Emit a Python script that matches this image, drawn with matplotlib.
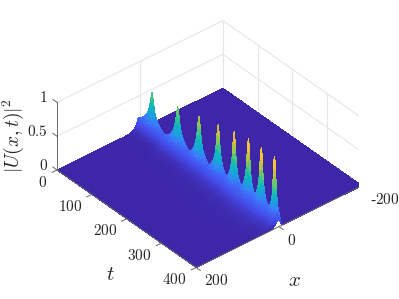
import numpy as np
import matplotlib
matplotlib.use('Agg')
import matplotlib.pyplot as plt
from matplotlib.colors import LinearSegmentedColormap
from mpl_toolkits.mplot3d import proj3d

plt.rcParams['mathtext.fontset'] = 'cm'
plt.rcParams['font.family'] = ['Liberation Serif', 'DejaVu Sans']

# values
peak_t = [35, 109, 170, 225, 271, 312, 349, 387]
peak_amp = [0.50, 0.55, 0.63, 0.70, 0.75, 0.79, 0.79, 0.79]
peak_w = [36, 36, 30, 26, 22, 20, 19, 13]
ridge_gain = [0.18, 0.18, 0.18, 0.19, 0.20, 0.21, 0.21, 0.21]
ridge_wide = [0.35, 0.5, 0.6, 0.65, 0.7, 0.75, 0.75, 0.6]

cusp_off = [0, 0.05, 0.1, 0.17, 0.26, 0.38, 0.52, 0.7, 0.86, 1.0]
cusp_val = [1, 0.86, 0.7, 0.54, 0.39, 0.27, 0.17, 0.09, 0.04, 0.01]

x_grid = [-200, -60, -18, -14, -10, -7, -4, -2, 0, 2, 4, 7, 10, 14, 18, 22, 26, 30, 34, 38, 42, 46, 51, 56, 63, 70, 80, 90, 105, 120, 200]
ridge_x = [0, 0, 0, 0, 0.02, 0.1, 0.38, 0.72, 0.95, 1, 1, 1, 0.95, 0.85, 0.72, 0.6, 0.5, 0.42, 0.35, 0.29, 0.24, 0.19, 0.15, 0.12, 0.09, 0.07, 0.05, 0.03, 0.015, 0, 0]
peak_x = [0, 0, 0, 0.03, 0.1, 0.28, 0.62, 0.9, 1, 0.9, 0.66, 0.3, 0.1, 0.02, 0, 0, 0, 0, 0, 0, 0, 0, 0, 0, 0, 0, 0, 0, 0, 0, 0]

x_ticks = [-200, 0, 200]
t_ticks = [0, 100, 200, 300, 400]
z_ticks = [0, 0.5, 1]
x_labels = ['-$200$', '$0$', '$200$']
t_labels = ['$0$', '$100$', '$200$', '$300$', '$400$']
z_labels = ['$0$', '$0.5$', '$1$']

parula = LinearSegmentedColormap.from_list('parula', [
    (0.24, 0.15, 0.66), (0.27, 0.30, 0.92), (0.24, 0.47, 0.99), (0.12, 0.62, 0.89),
    (0.03, 0.72, 0.75), (0.26, 0.78, 0.52), (0.65, 0.77, 0.27), (0.95, 0.73, 0.22), (0.98, 0.98, 0.08)])

# rows of the surface: one group of samples around each peak
rows = [(0, 0, ridge_gain[0], 0.3), (400, 0, 0.1, 0.3)]
for p in range(len(peak_t)):
    for off, val in zip(cusp_off, cusp_val):
        for side in (-1, 1):
            tt = peak_t[p] + side * off * peak_w[p]
            if 0 < tt < 400:
                rows.append((tt, peak_amp[p] * val, ridge_gain[p], ridge_wide[p]))
rows.sort()
t_grid = np.array([r[0] for r in rows])
crest = np.array([r[1] for r in rows])
gain = np.array([r[2] for r in rows])
wide = np.array([r[3] for r in rows])

X, T = np.meshgrid(x_grid, t_grid)
# the tail in front of the ridge gets wider with t
X = np.where((X > 2) & (X < 200), 2 + (X - 2) * wide[:, None], X)
Z = np.outer(gain, ridge_x) + np.outer(crest, peak_x)

fig = plt.figure(figsize=(3.99, 2.99), dpi=100)
ax = fig.add_axes([0, 0, 1, 1], projection='3d', proj_type='ortho')
ax.computed_zorder = False
ax.view_init(elev=36, azim=50)
ax.set_box_aspect((215, 215, 83))
ax.set_xlim(-200, 200, view_margin=0)
ax.set_ylim(0, 400, view_margin=0)
ax.set_zlim(0, 1, view_margin=0)
ax.set_axis_off()

# back walls
grid_c = '#e6e6e6'
for z in z_ticks[1:]:
    ax.plot([200, -200, -200], [0, 0, 400], [z, z, z], color=grid_c, lw=0.8, zorder=1)
for x in x_ticks[:2]:
    ax.plot([x, x], [0, 0], [0, 1], color=grid_c, lw=0.8, zorder=1)
for t in t_ticks[1:]:
    ax.plot([-200, -200], [t, t], [0, 1], color=grid_c, lw=0.8, zorder=1)

ax.plot_surface(X, T, Z, cmap=parula, vmin=0, vmax=1, rstride=1, cstride=1,
                linewidth=0, antialiased=False, shade=False, zorder=2)

# axis lines and ticks
ax_c = '#666666'
ax.plot([200, 200], [0, 0], [0, 1], color=ax_c, lw=0.7, zorder=3)
ax.plot([200, 200], [0, 400], [0, 0], color=ax_c, lw=0.7, zorder=3)
ax.plot([200, -200], [400, 400], [0, 0], color=ax_c, lw=0.7, zorder=3)
for t in t_ticks:
    ax.plot([200, 212], [t, t], [0, 0], color=ax_c, lw=0.7, zorder=3)
for x in x_ticks:
    ax.plot([x, x], [400, 412], [0, 0], color=ax_c, lw=0.7, zorder=3)
for z in z_ticks:
    ax.plot([200, 200], [0, -12], [z, z], color=ax_c, lw=0.7, zorder=3)

fig.text(110 / 399, 1 - 275 / 299, '$t$', fontsize=15, ha='center', va='center', color='#262626')
fig.text(294 / 399, 1 - 281 / 299, '$x$', fontsize=15, ha='center', va='center', color='#262626')
fig.text(13 / 399, 1 - 136 / 299, r'$|U(x,t)|^2$', fontsize=14, rotation=90, ha='center', va='center', color='#262626')


# fit the box to the corners seen in the picture
def corner_px(x, t, z=0):
    fig.canvas.draw()
    a, b, _ = proj3d.proj_transform(x, t, z, ax.get_proj())
    return ax.transData.transform((a, b))


p0 = corner_px(200, 0)
p1 = corner_px(-200, 400)
scale = (362 - 57) / (p1[0] - p0[0])
ax.set_position([0.5 - 0.5 * scale, 0.5 - 0.5 * scale, scale, scale])
p0 = corner_px(200, 0)
pos = ax.get_position()
ax.set_position([pos.x0 + (57 - p0[0]) / 399, pos.y0 + ((299 - 170) - p0[1]) / 299, pos.width, pos.height])


# tick labels sit a few pixels off their tick
def tick_label(x, t, z, s, dx, dy, ha):
    p = corner_px(x, t, z)
    fig.text((p[0] + dx) / 399, (p[1] + dy) / 299, s, ha=ha, va='center', fontsize=11, color='#262626')


for t, lab in zip(t_ticks, t_labels):
    tick_label(200, t, 0, lab, -9.5, -12, 'right')
for x, lab in zip(x_ticks, x_labels):
    tick_label(x, 400, 0, lab, 8, -13.5, 'left')
for z, lab in zip(z_ticks, z_labels):
    tick_label(200, 0, z, lab, -9, 5, 'right')

fig.savefig('out.png', dpi=100)
